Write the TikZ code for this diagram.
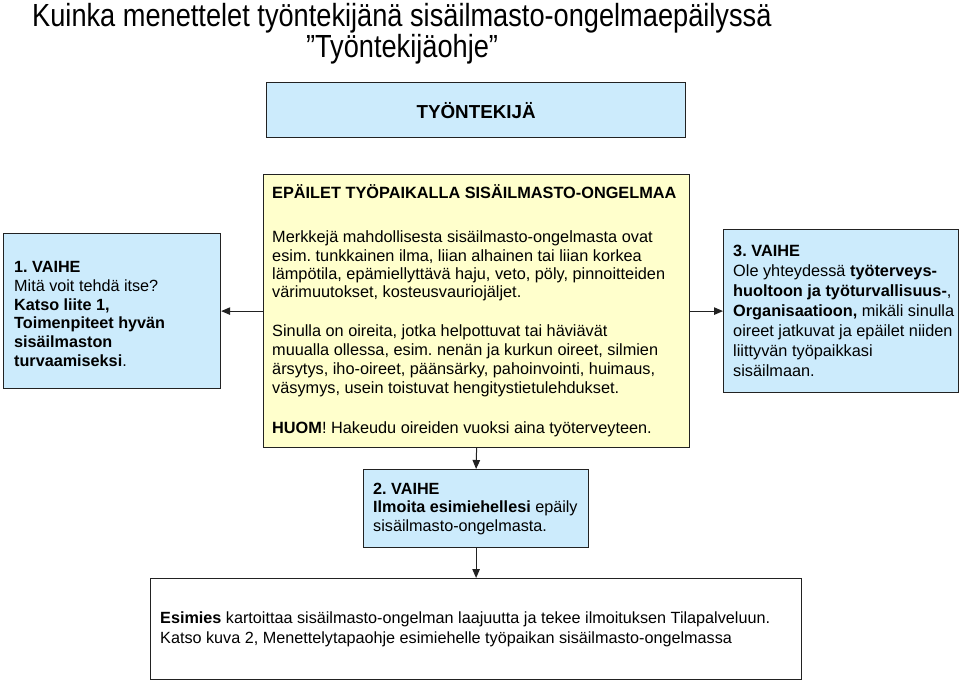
\documentclass[tikz,border=0pt]{standalone}
\usepackage{fontspec}
\setmainfont{Liberation Sans}
\usetikzlibrary{arrows.meta}
\definecolor{boxblue}{HTML}{CCEBFC}
\definecolor{boxyellow}{HTML}{FFFFCC}
\definecolor{edge}{HTML}{222222}
\frenchspacing
\begin{document}
\begin{tikzpicture}[x=1pt,y=-1pt,
  box/.style={draw=edge, line width=1.2pt, inner sep=0pt, anchor=north west},
  txt/.style={align=left, anchor=west, inner sep=0pt},
  arr/.style={-{Triangle[length=9pt,width=7.5pt]}, line width=1pt, draw=edge}]
\useasboundingbox (0,0) rectangle (960,682);
% title
\node[anchor=base west, inner sep=0pt] (t1) at (32,26.5)
  {\scalebox{0.85}[1]{\fontsize{32}{32}\selectfont Kuinka menettelet työntekijänä sisäilmasto-ongelmaepäilyssä}};
\node[anchor=base, inner sep=0pt] (t2) at (402,57.5)
  {\scalebox{0.85}[1]{\fontsize{32}{32}\selectfont ”Työntekijäohje”}};
% boxes
\node[box, fill=boxblue, minimum width=419pt, minimum height=55pt] (top) at (266,82) {};
\node[inner sep=0pt, font=\fontsize{18.8}{22}\selectfont\bfseries] (toplbl) at (top.center) {TYÖNTEKIJÄ};

\node[box, fill=boxyellow, minimum width=426pt, minimum height=273pt] (mid) at (263,174) {};
\node[txt, font=\fontsize{16.3}{19}\selectfont] (midlbl) at ([xshift=9pt]mid.west)
  {\textbf{EPÄILET TYÖPAIKALLA SISÄILMASTO-ONGELMAA}\\[25pt]
   Merkkejä mahdollisesta sisäilmasto-ongelmasta ovat\\[-0.7pt]
   esim. tunkkainen ilma, liian alhainen tai liian korkea\\[-0.7pt]
   lämpötila, epämiellyttävä haju, veto, pöly, pinnoitteiden\\[-0.7pt]
   värimuutokset, kosteusvauriojäljet.\\[20pt]
   Sinulla on oireita, jotka helpottuvat tai häviävät\\
   muualla ollessa, esim. nenän ja kurkun oireet, silmien\\
   ärsytys, iho-oireet, päänsärky, pahoinvointi, huimaus,\\
   väsymys, usein toistuvat hengitystietulehdukset.\\[21pt]
   \textbf{HUOM}! Hakeudu oireiden vuoksi aina työterveyteen.};

\node[box, fill=boxblue, minimum width=217pt, minimum height=155pt] (v1) at (3,233) {};
\node[txt, font=\fontsize{16.2}{18.7}\selectfont] (v1lbl) at ([xshift=11pt,yshift=-3pt]v1.west)
  {\textbf{1. VAIHE}\\
   Mitä voit tehdä itse?\\
   \textbf{Katso liite 1,}\\
   \textbf{Toimenpiteet hyvän}\\
   \textbf{sisäilmaston}\\
   \textbf{turvaamiseksi}.};

\node[box, fill=boxblue, minimum width=235pt, minimum height=163pt] (v3) at (723,229) {};
\node[txt, font=\fontsize{16.3}{20}\selectfont] (v3lbl) at ([xshift=10pt]v3.west)
  {\textbf{3. VAIHE}\\
   Ole yhteydessä \textbf{työterveys-}\\
   \textbf{huoltoon ja työturvallisuus-},\\
   \textbf{Organisaatioon,} mikäli sinulla\\
   oireet jatkuvat ja epäilet niiden\\
   liittyvän työpaikkasi\\
   sisäilmaan.};

\node[box, fill=boxblue, minimum width=225pt, minimum height=78pt] (v2) at (363,469) {};
\node[txt, font=\fontsize{16.2}{18.5}\selectfont] (v2lbl) at ([xshift=10pt]v2.west)
  {\textbf{2. VAIHE}\\
   \textbf{Ilmoita esimiehellesi} epäily\\
   sisäilmasto-ongelmasta.};

\node[box, fill=white, minimum width=651pt, minimum height=101pt] (bot) at (150,578) {};
\node[txt, font=\fontsize{16.2}{20}\selectfont] (botlbl) at ([xshift=10pt]bot.west)
  {\textbf{Esimies} kartoittaa sisäilmasto-ongelman laajuutta ja tekee ilmoituksen Tilapalveluun.\\
   Katso kuva 2, Menettelytapaohje esimiehelle työpaikan sisäilmasto-ongelmassa};

% connectors
\draw[arr] (mid.west) -- (v1.east);
\draw[arr] (mid.east) -- (v3.west);
\draw[arr] (mid.south) -- (v2.north);
\draw[arr] (v2.south) -- (bot.north);
\end{tikzpicture}
\end{document}
